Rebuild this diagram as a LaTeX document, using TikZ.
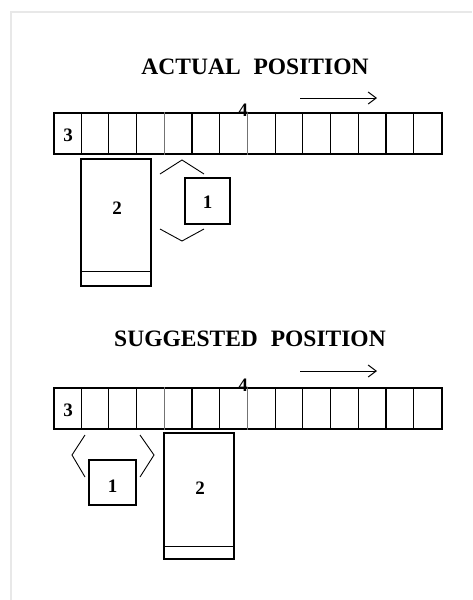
\documentclass[tikz,border=0pt]{standalone}
\usepackage{fontspec}
\setmainfont{Liberation Serif}
\usetikzlibrary{arrows.meta,calc}
\begin{document}
\begin{tikzpicture}[x=1pt,y=-1pt,line width=1.2pt,
  title/.style={font=\fontsize{23.5}{23.5}\selectfont\bfseries, inner sep=0},
  num/.style={font=\fontsize{19}{19}\selectfont\bfseries, inner sep=0},
  box/.style={draw, rectangle, inner sep=0, line width=1.2pt},
  brk/.style={line width=0.9pt},
  mv/.style={line width=1pt, -{Straight Barb[length=8pt,width=12pt,line width=1pt]}},
  frame/.style={gray!18, line width=1.2pt}]
\useasboundingbox (0,0) rectangle (472,600);
\draw[frame] (11,600) -- (11,12) -- (472,12);

% ---------- ACTUAL POSITION ----------
\node[title] (t1) at (255,67) {ACTUAL\hspace{0.55em}POSITION};
\node[box, minimum width=388pt, minimum height=41pt] (s1) at (248,133.5) {};
\foreach \i in {1,...,13}{
  \ifnum\i=4 \def\cc{black!55}\else\ifnum\i=7 \def\cc{black!55}\else\def\cc{black}\fi\fi
  \draw[\cc] ($(s1.north west)+(\i*27.714,0)$) -- ($(s1.south west)+(\i*27.714,0)$);
}
\node[num] (n3a) at (68,135) {3};
\node[num, anchor=south] (n4a) at (243,117) {4};
\coordinate (a1s) at (300,98);
\coordinate (a1e) at (377,98);
\draw[mv] (a1s) -- (a1e);
\node[box, minimum width=70pt, minimum height=127pt] (b2a) at (116,222.5) {};
\draw ($(b2a.south west)+(0,-15)$) -- ($(b2a.south east)+(0,-15)$);
\node[num] (l2a) at (117,208) {2};
\node[box, minimum width=45pt, minimum height=46pt] (b1a) at (207.5,201) {};
\node[num] (l1a) at (207.5,202) {1};
\draw[brk] (160,174) -- (182,160) -- (204,174);
\draw[brk] (160,229) -- (182,241) -- (204,229);

% ---------- SUGGESTED POSITION ----------
\node[title] (t2) at (250,339) {SUGGESTED\hspace{0.55em}POSITION};
\node[box, minimum width=388pt, minimum height=41pt] (s2) at (248,408.5) {};
\foreach \i in {1,...,13}{
  \ifnum\i=4 \def\cc{black!55}\else\ifnum\i=7 \def\cc{black!55}\else\def\cc{black}\fi\fi
  \draw[\cc] ($(s2.north west)+(\i*27.714,0)$) -- ($(s2.south west)+(\i*27.714,0)$);
}
\node[num] (n3b) at (68,410) {3};
\node[num, anchor=south] (n4b) at (243,392) {4};
\coordinate (a2s) at (300,371);
\coordinate (a2e) at (377,371);
\draw[mv] (a2s) -- (a2e);
\node[box, minimum width=70pt, minimum height=126pt] (b2b) at (199,496) {};
\draw ($(b2b.south west)+(0,-13)$) -- ($(b2b.south east)+(0,-13)$);
\node[num] (l2b) at (200,488) {2};
\node[box, minimum width=47pt, minimum height=45pt] (b1b) at (112.5,482.5) {};
\node[num] (l1b) at (112.5,486) {1};
\draw[brk] (85,435) -- (72,455) -- (85,477);
\draw[brk] (140,435) -- (154,455) -- (140,477);
\end{tikzpicture}
\end{document}
